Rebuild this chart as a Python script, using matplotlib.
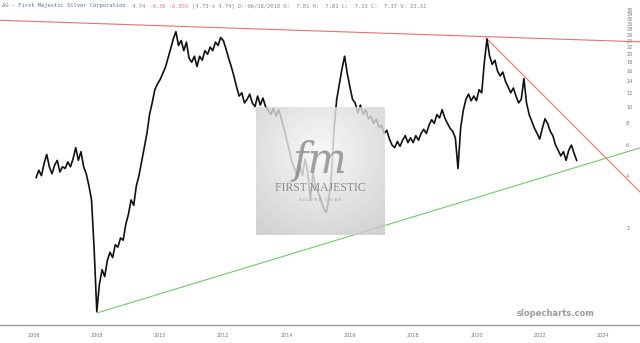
import numpy as np
import pandas as pd
import matplotlib
matplotlib.use("Agg")
import matplotlib.pyplot as plt

# monthly closes (Feb 2006 .. Mar 2023)
prices = [
    3.9, 4.3, 4.0, 4.7, 5.3, 4.5, 4.1, 4.6, 4.9, 4.2, 4.5,                 # 2006
    4.4, 4.8, 4.5, 5.0, 5.8, 4.9, 5.5, 4.5, 4.1, 3.5, 2.9, 1.5,            # 2007
    0.66, 0.95, 1.15, 1.05, 1.3, 1.45, 1.35, 1.6, 1.55, 1.75, 1.7, 2.1,    # 2008
    2.4, 2.9, 2.7, 3.5, 4.0, 4.8, 5.8, 7.0, 9.0, 10.5, 12.5, 13.5,         # 2009
    14.3, 15.5, 16.8, 19.0, 21.5, 24.5, 27.0, 22.5, 24.0, 21.0, 23.5, 19.0,  # 2010
    18.0, 19.5, 17.0, 19.5, 18.5, 21.0, 20.0, 22.0, 21.0, 23.5, 22.5, 25.0,  # 2011
    24.0, 21.5, 19.0, 17.0, 15.0, 13.0, 11.5, 12.0, 10.5, 11.0, 11.8, 10.5,  # 2012
    10.0, 11.5, 10.2, 11.2, 10.0, 9.5, 9.0, 9.8, 8.8, 9.6, 8.5, 7.5,       # 2013
    6.5, 5.6, 4.8, 4.4, 4.0, 4.6, 4.0, 5.0, 4.2, 2.9, 4.2, 3.4,            # 2014
    3.2, 2.9, 2.6, 2.45, 2.9, 4.0, 7.5, 11.0, 13.5, 16.5, 19.5, 15.5,      # 2015
    13.0, 11.0, 10.5, 9.2, 10.2, 9.0, 9.6, 8.5, 8.8, 8.0, 8.5, 7.6,        # 2016
    7.8, 7.0, 7.3, 6.5, 6.0, 5.8, 6.3, 5.9, 6.4, 6.8, 6.2, 6.6,            # 2017
    6.2, 6.8, 6.4, 7.0, 7.4, 7.0, 7.8, 8.4, 8.0, 9.0, 8.6, 9.6,            # 2018
    8.6, 8.0, 7.5, 7.2, 6.6, 4.4, 7.5, 9.5, 11.0, 11.8, 10.8, 11.5,        # 2019
    10.8, 12.5, 12.0, 18.0, 24.5, 19.5, 17.5, 18.5, 16.0, 15.0, 15.8, 14.0,  # 2020
    13.0, 12.0, 12.8, 11.5, 10.5, 11.0, 14.5, 10.5, 9.0, 8.2, 7.5, 7.0,    # 2021
    6.5, 7.5, 8.5, 8.0, 7.2, 6.8, 6.0, 5.6, 5.2, 5.5, 4.9, 5.6,            # 2022
    6.0, 5.4, 4.9,                                                         # 2023
]
dates = pd.date_range("2006-02-01", periods=len(prices), freq="MS")
years = dates.year + (dates.month - 1) / 12.0

# trendlines (year, price) end points
top_red_x = [2004.94, 2025.17]
top_red_y = [31.4, 23.6]
down_red_x = [2020.30, 2025.17]
down_red_y = [24.9, 3.22]
green_x = [2008.01, 2025.17]
green_y = [0.648, 5.78]

year_ticks = [2006, 2008, 2010, 2012, 2014, 2016, 2018, 2020, 2022, 2024]
price_ticks = [2, 4, 6, 8, 10, 12, 14, 16, 18, 20, 22, 24, 26, 28, 30, 32, 34, 36]

fig = plt.figure(figsize=(6.4, 3.43), dpi=100)
ax = fig.add_axes([0, 18 / 343, 1, 325 / 343])
ax.set_yscale("log")
ax.set_xlim(2004.94, 2025.17)
ax.set_ylim(0.552, 41.1)

ax.plot(years, prices, color="#111111", lw=1.2, zorder=3)
ax.plot(top_red_x, top_red_y, color="#e87070", lw=0.8, zorder=2)
ax.plot(down_red_x, down_red_y, color="#e87070", lw=0.8, zorder=2)
ax.plot(green_x, green_y, color="#72c872", lw=0.8, zorder=2)

for s in ["top", "left", "right"]:
    ax.spines[s].set_visible(False)
ax.spines["bottom"].set_color("#999999")
ax.spines["bottom"].set_linewidth(1.0)

ax.set_xticks(year_ticks)
ax.set_xticklabels([str(y) for y in year_ticks], fontsize=3.5, color="#777777")
ax.tick_params(axis="x", length=0, pad=6)
ax.set_yticks(price_ticks)
ax.set_yticks([], minor=True)
ax.set_yticklabels([str(p) for p in price_ticks], fontsize=3.5, color="#777777")
ax.yaxis.tick_right()
ax.tick_params(axis="y", length=0, direction="in", pad=-10)
for lab in ax.get_yticklabels():
    lab.set_horizontalalignment("left")

# header line
cw = 3.34 / 640
hx = 2 / 640
hy = 1 - 6 / 343
parts = [
    ("AG - First Majestic Silver Corporation", "#5a6fb5"),
    (" 4.74", "#888888"),
    (" -0.30 -6.05%", "#f07878"),
    (" [4.73 x 4.74] D: 06/18/2018 O:  7.81 H:  7.81 L:  7.33 C:  7.37 V: 23.31", "#888888"),
]
n = 0
for txt, col in parts:
    fig.text(hx + n * cw, hy, txt, fontsize=4, family="DejaVu Sans Mono",
             color=col, va="center", ha="left")
    n += len(txt)

# company logo watermark
lax = fig.add_axes([256 / 640, (343 - 235) / 343, 128 / 640, 128 / 343], zorder=5)
gx, gy = np.meshgrid(np.linspace(-1, 1, 200), np.linspace(-1, 1, 200))
grad = 0.97 - 0.12 * np.clip(np.sqrt(gx ** 2 + (gy + 0.3) ** 2), 0, 1.6)
lax.imshow(grad, cmap="gray", vmin=0, vmax=1, extent=[0, 1, 0, 1], alpha=0.82,
           aspect="auto")
lax.text(0.5, 0.58, "fm", fontsize=30, family="DejaVu Serif", style="italic",
         color="#8a8a8a", ha="center", va="center", alpha=0.8)
lax.text(0.5, 0.37, "FIRST MAJESTIC", fontsize=8.5, family="Liberation Serif",
         color="#8c8c8c", ha="center", va="center")
lax.text(0.5, 0.27, "S I L V E R   C O R P", fontsize=3, family="DejaVu Serif",
         color="#9a9a9a", ha="center", va="center")
lax.set_xlim(0, 1)
lax.set_ylim(0, 1)
lax.axis("off")

fig.text(556 / 640, 1 - 313 / 343, "slopecharts.com", fontsize=6, weight="bold",
         color="#9a9a9a", ha="center", va="center")

fig.savefig("out.png", dpi=100)
